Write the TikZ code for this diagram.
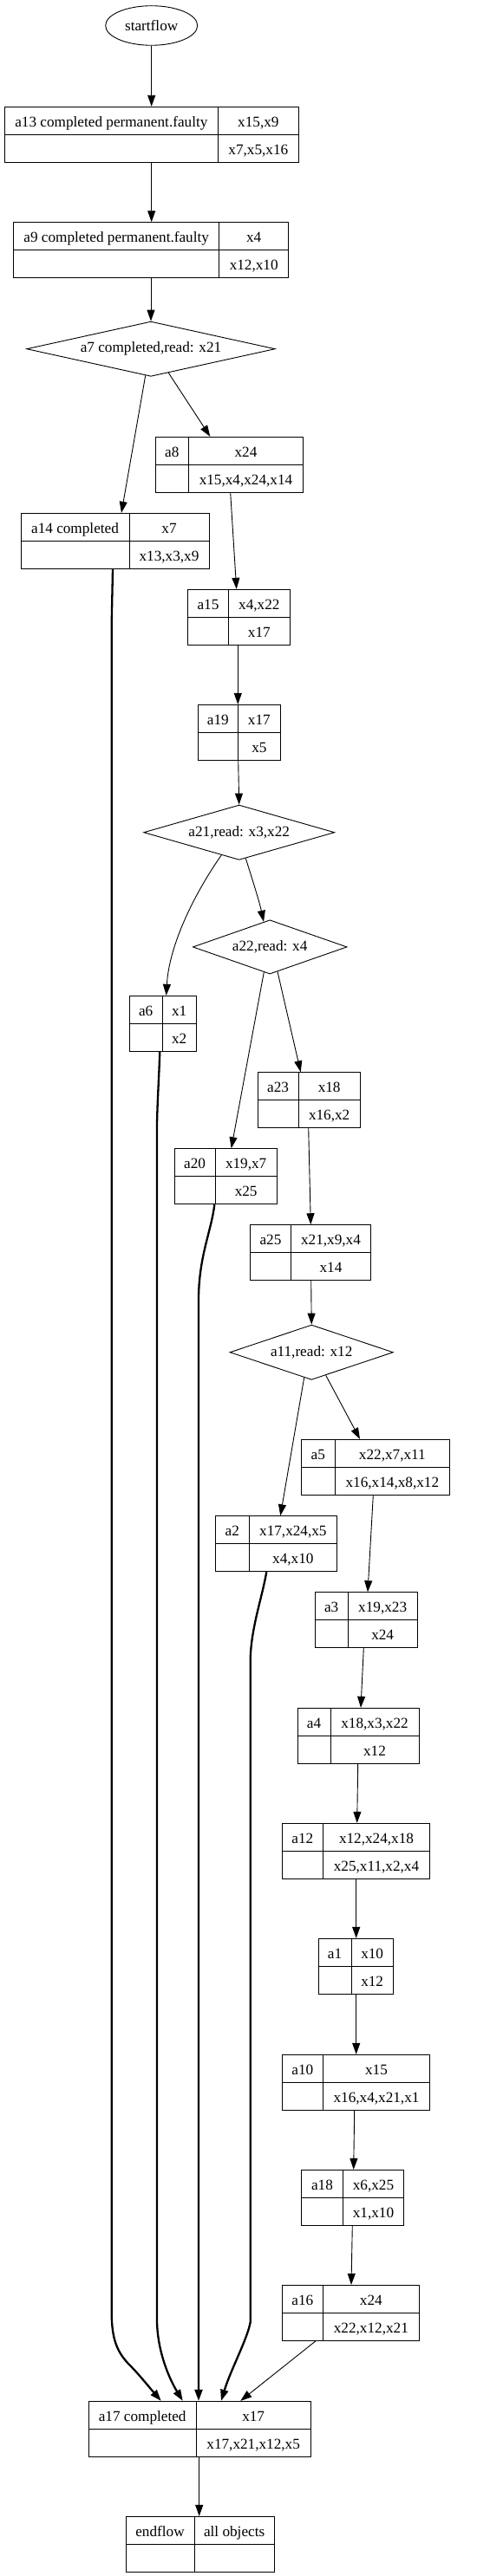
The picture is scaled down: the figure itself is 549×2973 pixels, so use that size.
\documentclass[tikz,border=0pt]{standalone}
\usepackage{fontspec}
\setmainfont{Liberation Serif}
\usetikzlibrary{shapes.geometric,arrows.meta,calc}
\tikzset{
  base/.style={line width=0.9pt},
  recbox/.style={draw, rectangle, line width=0.9pt, inner sep=0pt},
  lab/.style={font=\fontsize{17.2}{20}\selectfont, inner sep=0pt, anchor=base},
  choice/.style={draw, diamond, line width=0.9pt, inner sep=0pt, font=\fontsize{17.2}{20}\selectfont},
  terminal/.style={draw, ellipse, line width=0.9pt, inner sep=0pt, font=\fontsize{17.2}{20}\selectfont},
  edge/.style={line width=0.9pt, -{Triangle[length=13pt,width=9pt]}},
  bold edge/.style={line width=2.3pt, -{Triangle[length=13pt,width=9pt]}},
}
% #1 name, #2 x1, #3 x2, #4 divider x, #5 y1, #6 y2, #7 label, #8 right top, #9 right bottom
\newcommand\recnode[9]{%
  \node[recbox, minimum width={(#3-#2)*1pt}, minimum height={(#6-#5)*1pt}] (#1) at ({(#2+#3)/2},{(#5+#6)/2}) {};
  \draw[base] (#1.west) -- (#1.east);
  \draw[base] (#1.north -| #4,0) -- (#1.south -| #4,0);
  \node[lab] (#1-l) at ({(#2+#4)/2},{(3*#5+#6)/4+7}) {#7};
  \node[lab] (#1-t) at ({(#4+#3)/2},{(3*#5+#6)/4+7}) {#8};
  \node[lab] (#1-b) at ({(#4+#3)/2},{(#5+3*#6)/4+7}) {#9};
}
\begin{document}
\begin{tikzpicture}[x=1pt,y=-1pt]
\useasboundingbox (0,0) rectangle (549,2973);

\node[terminal, minimum width=106pt, minimum height=45.6pt] (start) at (174.7,29.5) {startflow};

\recnode{a13}{5}{344}{251.7}{123.3}{187.3}{a13 completed permanent.faulty}{x15,x9}{x7,x5,x16}
\recnode{a9}{15.7}{332.7}{252.7}{256.7}{320.3}{a9 completed permanent.faulty}{x4}{x12,x10}
\node[choice, aspect=4.5, minimum width=286.6pt, minimum height=63.3pt] (a7) at (174,402.7) {a7 completed,read: x21};
\recnode{a8}{179.3}{349.7}{217.3}{504.3}{568.3}{a8}{x24}{x15,x4,x24,x14}
\recnode{a14}{24}{241}{149}{592.3}{656.3}{a14 completed}{x7}{x13,x3,x9}
\recnode{a15}{216.7}{334.3}{263.3}{680.3}{744.3}{a15}{x4,x22}{x17}
\recnode{a19}{228}{323}{274.7}{813.3}{877.3}{a19}{x17}{x5}
\node[choice, aspect=3.5, minimum width=220pt, minimum height=63.3pt] (a21) at (275.7,960.7) {a21,read: x3,x22};
\node[choice, aspect=2.85, minimum width=177.7pt, minimum height=62.3pt] (a22) at (311.2,1092.9) {a22,read: x4};
\recnode{a6}{149}{226}{187.3}{1149.3}{1213.3}{a6}{x1}{x2}
\recnode{a23}{297.3}{415.3}{344}{1237.7}{1301.7}{a23}{x18}{x16,x2}
\recnode{a20}{201.3}{319.3}{248}{1325.7}{1389.7}{a20}{x19,x7}{x25}
\recnode{a25}{288.7}{427.7}{335.3}{1413.7}{1477.7}{a25}{x21,x9,x4}{x14}
\node[choice, aspect=3, minimum width=188.3pt, minimum height=63.3pt] (a11) at (359.2,1560.7) {a11,read: x12};
\recnode{a5}{347.7}{518.7}{386}{1661.3}{1725.3}{a5}{x22,x7,x11}{x16,x14,x8,x12}
\recnode{a2}{248.7}{388.7}{287}{1749.7}{1813.7}{a2}{x17,x24,x5}{x4,x10}
\recnode{a3}{363}{481}{401.3}{1837.7}{1901.7}{a3}{x19,x23}{x24}
\recnode{a4}{343}{483}{381}{1971.3}{2035.3}{a4}{x18,x3,x22}{x12}
\recnode{a12}{325}{495.3}{372.7}{2104.3}{2168.3}{a12}{x12,x24,x18}{x25,x11,x2,x4}
\recnode{a1}{367}{453.3}{405}{2237.3}{2301.3}{a1}{x10}{x12}
\recnode{a10}{325}{495.3}{372.7}{2371.3}{2435.3}{a10}{x15}{x16,x4,x21,x1}
\recnode{a18}{347.7}{465.7}{395.3}{2504.3}{2568.3}{a18}{x6,x25}{x1,x10}
\recnode{a16}{325}{483}{372.7}{2637.3}{2701.3}{a16}{x24}{x22,x12,x21}
\recnode{a17}{102.3}{358.3}{226}{2771.3}{2835.3}{a17 completed}{x17}{x17,x21,x12,x5}
\recnode{endflow}{145}{316.3}{224}{2904.3}{2968.3}{endflow}{all objects}{}

% thin connectors
\draw[edge] (start.south) -- (start.south |- a13.north);
\draw[edge] (a13.south -| start.south) -- (a9.north -| start.south);
\draw[edge] (a9.south -| a7.north) -- (a7.north);
\draw[edge] ($(a7.south)+(-6.3,-1.4)$) -- (a14.north -| 140,0);
\draw[edge] ($(a7.south)+(20.3,-4.5)$) -- (a8.north -| 242.3,0);
\draw[edge] (a8.south -| 265.7,0) -- (a15.north -| 272.7,0);
\draw[edge] (a15.south -| 274.3,0) -- (a19.north -| 274.3,0);
\draw[edge] (a19.south -| 274.7,0) -- (a21.north);
\draw[edge] ($(a21.south)+(-20.4,-5.9)$) .. controls (225,1030) and (195,1090) .. (a6.north -| 191.7,0);
\draw[edge] ($(a21.south)+(7.6,-2.2)$) .. controls (290,1012) and (299,1040) .. ($(a22.north)+(-7.2,2.5)$);
\draw[edge] ($(a22.south)+(-6.9,-2.4)$) -- (a20.north -| 266.7,0);
\draw[edge] ($(a22.south)+(8.8,-3.1)$) -- (a23.north -| 346.7,0);
\draw[edge] (a23.south -| 355.7,0) -- (a25.north -| 358.3,0);
\draw[edge] (a25.south -| 358.7,0) -- (a11.north);
\draw[edge] ($(a11.south)+(-8.5,-2.9)$) -- (a2.north -| 323.3,0);
\draw[edge] ($(a11.south)+(16.5,-5.5)$) -- (a5.north -| 415,0);
\draw[edge] (a5.south -| 430.3,0) -- (a3.north -| 424,0);
\draw[edge] (a3.south -| 419.3,0) -- (a4.north -| 416,0);
\draw[edge] (a4.south -| 412.7,0) -- (a12.north -| 411.7,0);
\draw[edge] (a12.south -| 410.7,0) -- (a1.north -| 410.7,0);
\draw[edge] (a1.south -| 410.7,0) -- (a10.north -| 410.7,0);
\draw[edge] (a10.south -| 408.7,0) -- (a18.north -| 407.7,0);
\draw[edge] (a18.south -| 406.3,0) -- (a16.north -| 405,0);
\draw[edge] (a16.south -| 364,0) -- (a17.north -| 277.3,0);
\draw[edge] (a17.south -| 229.7,0) -- (endflow.north -| 229.7,0);

% bold connectors
\draw[bold edge] (a14.south -| 130,0) -- (128.7,720) -- (128.7,2670)
  .. controls (129,2700) and (135,2715) .. (150,2730)
  .. controls (160,2740) and (172,2755) .. (a17.north -| 185.7,0);
\draw[bold edge] (a6.south -| 184.3,0) .. controls (183,1250) and (181,1280) .. (181,1303)
  -- (181,2680) .. controls (182,2715) and (195,2745) .. (a17.north -| 210.7,0);
\draw[bold edge] (a20.south -| 247.3,0) .. controls (244,1420) and (229,1450) .. (229,1500)
  -- (a17.north -| 229,0);
\draw[bold edge] (a2.south -| 307.3,0) .. controls (302,1845) and (289,1880) .. (288.7,1916.7)
  -- (288.7,2680) .. controls (285,2700) and (266,2735) .. (a17.north -| 255,0);
\end{tikzpicture}
\end{document}
